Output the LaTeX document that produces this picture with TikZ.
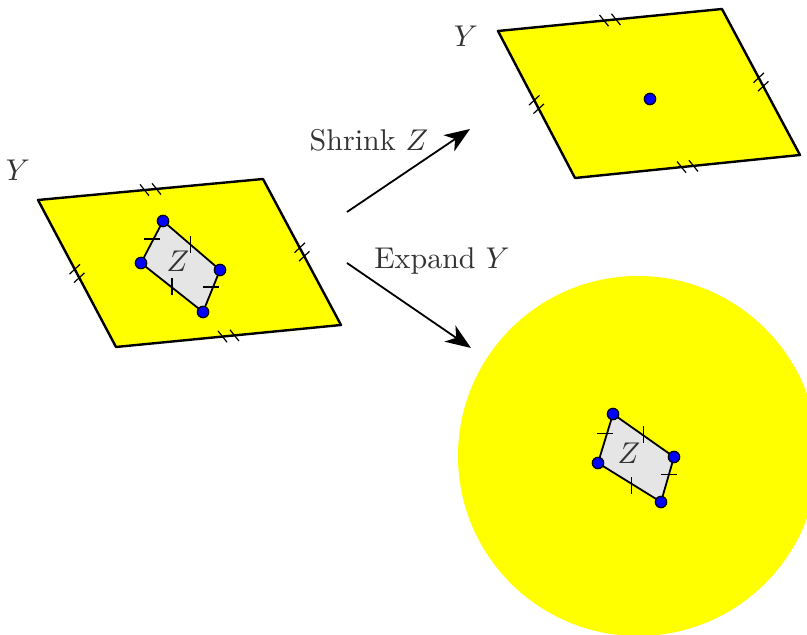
\documentclass[tikz,border=0pt]{standalone}
\usepackage{amsmath,amssymb}
\usepackage{xcolor}
\usepackage{tikz}
\usetikzlibrary{arrows.meta,calc}
\definecolor{sheet-yellow}{RGB}{255,255,0}
\definecolor{label-gray}{RGB}{51,51,51}

\begin{document}
\begin{tikzpicture}[x=0.3333pt, y=-0.3333pt,
            sheet/.style={draw, thick, fill=sheet-yellow, line join=round},
            patch/.style={draw, semithick, fill=black!10, line join=round},
            pt/.style={circle, draw, thin, fill=blue, inner sep=0pt,
                       minimum size=3.8pt},
            lbl/.style={text=label-gray},
            hash/.style={semithick},
            map/.style={-{Stealth[length=8.5pt, width=6.5pt, inset=2.5pt]},
                        semithick},
            dticks/.pic={\draw[thin] (-2pt,0pt) ++(-57:2.4pt) -- ++(123:4.8pt);
                         \draw[thin] (2pt,0pt) ++(-57:2.4pt) -- ++(123:4.8pt);},
            dticks-side/.pic={\draw[thin] (-1.6pt,0pt) ++(-75:2.4pt) -- ++(105:4.8pt);
                         \draw[thin] (1.6pt,0pt) ++(-75:2.4pt) -- ++(105:4.8pt);}]
          \useasboundingbox (0,0) rectangle (807,635);
          \clip (0,0) rectangle (807,635);

          % left sheet Y with patch Z
          \coordinate (ya) at (38,200);
          \coordinate (yb) at (263,179);
          \coordinate (yc) at (341,325);
          \coordinate (yd) at (116,347);
          \draw[sheet] (ya) -- (yb) -- (yc) -- (yd) -- cycle;
          \path (ya) -- pic[pos=.5, sloped]{dticks} (yb)
                -- pic[pos=.5, sloped]{dticks-side} (yc)
                -- pic[pos=.5, sloped]{dticks} (yd)
                -- pic[pos=.5, sloped]{dticks-side} (ya);
          \node[lbl] (yleft) at (18,170) {$Y$};

          \coordinate (za) at (163,221);
          \coordinate (zb) at (220,270);
          \coordinate (zc) at (203,312);
          \coordinate (zd) at (141,263);
          \draw[patch] (za) -- (zb) -- (zc) -- (zd) -- cycle;
          \draw[hash] ($(za)!.5!(zd)$) +(-8,-3) -- +(8,-3);
          \draw[hash] ($(za)!.5!(zb)$) +(-1,-9) -- +(-1,8);
          \draw[hash] ($(zb)!.5!(zc)$) +(-8,-4) -- +(8,-4);
          \draw[hash] ($(zc)!.5!(zd)$) +(0,-9) -- +(0,8);
          \node[lbl] (zleft) at (178,261) {$Z$};
          \node[pt] (za-dot) at (za) {};
          \node[pt] (zb-dot) at (zb) {};
          \node[pt] (zc-dot) at (zc) {};
          \node[pt] (zd-dot) at (zd) {};

          % the two maps
          \coordinate (shrink-s) at (347,212);
          \coordinate (shrink-e) at (470,129);
          \coordinate (expand-s) at (347,263);
          \coordinate (expand-e) at (471,348);
          \draw[map] (shrink-s) -- (shrink-e);
          \draw[map] (expand-s) -- (expand-e);
          \node[lbl] (shrink) at (369,140) {Shrink $Z$};
          \node[lbl] (expand) at (442,261) {Expand $Y$};

          % top right: Z shrunk to a point
          \coordinate (sa) at (498,31);
          \coordinate (sb) at (722,9);
          \coordinate (sc) at (800,155);
          \coordinate (sd) at (575,178);
          \draw[sheet] (sa) -- (sb) -- (sc) -- (sd) -- cycle;
          \path (sa) -- pic[pos=.5, sloped]{dticks} (sb)
                -- pic[pos=.5, sloped]{dticks-side} (sc)
                -- pic[pos=.5, sloped]{dticks} (sd)
                -- pic[pos=.5, sloped]{dticks-side} (sa);
          \node[lbl] (yright) at (466,36) {$Y$};
          \node[pt] (point) at (650,99) {};

          % bottom right: Y expanded to a disc
          \fill[sheet-yellow] (638,456) circle (180);
          \coordinate (wa) at (613,414);
          \coordinate (wb) at (674,457);
          \coordinate (wc) at (661,502);
          \coordinate (wd) at (598,463);
          \draw[patch] (wa) -- (wb) -- (wc) -- (wd) -- cycle;
          \draw[hash] ($(wa)!.5!(wd)$) +(-8,-5) -- +(8,-5);
          \draw[hash] ($(wa)!.5!(wb)$) +(0,-9) -- +(0,8);
          \draw[hash] ($(wb)!.5!(wc)$) +(-6,-5) -- +(10,-5);
          \draw[hash] ($(wc)!.5!(wd)$) +(2,-5) -- +(2,12);
          \node[lbl] (zright) at (629,453) {$Z$};
          \node[pt] (wa-dot) at (wa) {};
          \node[pt] (wb-dot) at (wb) {};
          \node[pt] (wc-dot) at (wc) {};
          \node[pt] (wd-dot) at (wd) {};
        \end{tikzpicture}
\end{document}
